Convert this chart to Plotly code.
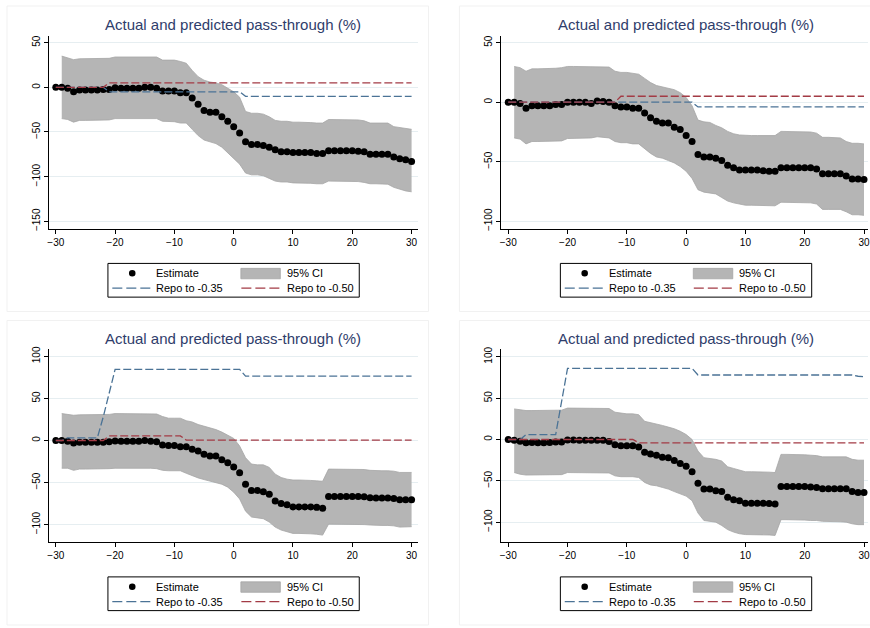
import plotly.graph_objects as go

# ---------------------------------------------------------------- data
event_time = list(range(-30, 31))

# Panel A (top left)
est_a = [0, 0, -1, -5, -3, -3, -3, -3, -2.5, -2.5, -0.5, -1, -1, -1, -1, 0, 0, -1, -4, -4,
         -4, -6, -6, -12, -19, -26, -28, -28, -33, -38, -44, -51, -61, -64, -64, -65, -67, -70, -72, -72,
         -73, -73, -73, -73, -74, -74, -71, -71, -71, -71, -71, -71.5, -72, -75, -75, -75, -75, -78, -80, -81,
         -83]
hi_a = [None, 35, 33, 31, 32, 32, 32, 32, 32.5, 32.5, 34, 34, 34, 34, 34, 34.5, 34.5, 34, 30.5, 30.5,
        30.5, 29, 27, 19, 12, 8, 6, 5, 3, -1, -5, -11, -27, -29, -29, -30, -33, -37, -38, -38,
        -39, -39, -39, -39.5, -40, -40, -36, -36, -36, -36, -36, -36.5, -37.5, -40, -40, -40, -40, -44, -45, -46,
        -47]
lo_a = [None, -35, -36, -39, -37, -37, -37, -37, -36.5, -36.5, -35, -35, -35, -35, -35, -34.5, -34.5, -35, -38, -38.5,
        -38.5, -40, -40, -47, -54, -59, -61, -63, -67, -73, -79, -86, -96, -98, -98, -99, -102, -105, -106, -106,
        -107, -107, -107, -107.5, -108, -108, -105, -105, -105, -105, -105, -105.5, -106.5, -108, -108, -108, -108.5, -112, -114, -116,
        -117]
repo35_a = [0] * 9 + [-5] * 23 + [-10] * 29
repo50_a = [0] * 9 + [5] * 52

# Panel B (top right)
est_b = [0, 0, -1, -5, -3, -3, -3, -3, -2, -2, 0, 0, 0, 0, -1, 1, 0.5, 0, -3, -4,
         -4, -5, -5, -9, -13, -16, -17.5, -17.5, -21, -23, -28, -33, -44, -46, -46, -47, -49, -53, -55, -57,
         -57, -57, -57, -57.5, -58, -58, -55, -55, -55, -55, -55, -55, -56, -60, -60, -60, -60, -62, -64.5, -64.5,
         -65]
hi_b = [None, 30, 29, 26, 28, 28, 28, 28, 28.5, 29, 30, 30, 30, 30, 30, 30, 30, 29.5, 26, 25,
        25, 24, 23.5, 20, 16.5, 14, 13, 12, 10.5, 8, 4, -3, -15, -16.5, -17, -19.5, -21.5, -24.5, -26.5, -27.5,
        -28, -28, -28, -28, -28, -28, -24.5, -24.5, -24.5, -24.5, -24.5, -25, -26, -29.5, -29.5, -29.5, -30, -33, -34.5, -34.5,
        -35]
lo_b = [None, -30, -31, -35, -33, -33, -33, -33, -32.5, -32.5, -30.5, -30.5, -30, -30, -30, -29, -29.5, -30, -33, -34,
        -34, -35, -35, -39, -43, -46, -47, -49, -51, -54, -58, -64, -73.5, -75.5, -76, -77, -80, -83, -84.5, -85.5,
        -86.5, -86.5, -86.5, -86.5, -87, -87, -84, -84, -84, -84, -84, -84.5, -85.5, -90, -90, -90, -90, -92, -94.5, -94.5,
        -95]
repo35_b = [0] * 32 + [-4] * 29
repo50_b = [0] * 19 + [5] * 42

# Panel C (bottom left)
est_c = [0, 0, -1, -3, -2, -2, -2, -2, -2, -1.5, -0.5, -1, -1, -1, -1, 0, -1, -1.5, -5.5, -6,
         -6, -7.5, -7.5, -10.5, -12.5, -16.5, -18.5, -18.5, -23, -26.5, -31.5, -38.5, -52, -59.5, -59.5, -61, -64, -72, -75, -76.5,
         -79, -79, -79, -79, -79.5, -80.5, -66.5, -66.5, -66.5, -66.5, -66.5, -66.5, -67, -68, -68.5, -68.5, -68.5, -69, -70.5, -70.5,
         -70.5]
hi_c = [None, 32, 31, 30, 30.5, 30.5, 30.5, 30.5, 30.5, 31, 32, 32, 32, 32, 32, 32, 32, 31.5, 28.5, 26.5,
        26.5, 26.5, 23.5, 22, 19, 17, 15, 13, 10, 6.5, 2.5, -6.5, -20.5, -28, -29, -29, -32, -40, -44, -46,
        -47, -47, -47, -47.5, -48, -48.5, -34, -34, -34, -34, -34, -34, -34.5, -35.5, -36, -36, -36, -36.5, -38, -38,
        -38]
lo_c = [None, -33, -33, -35.5, -34, -34, -34, -34, -34, -33.5, -33, -33, -33, -33, -33, -32.5, -33, -33.5, -35.5, -36,
        -36, -36, -39, -42, -44.5, -46.5, -48.5, -50, -52, -55.5, -61.5, -69.5, -84, -91, -92, -93, -97, -103, -106.5, -108.5,
        -110.5, -110.5, -110.5, -111, -111.5, -112.5, -99.5, -99.5, -99.5, -99.5, -99.5, -99.5, -100, -100.5, -101, -101, -101, -101.5, -103, -103,
        -102.5]
repo35_c = [0, 0] + [3] * 6 + [28, 55] + [84.5] * 22 + [76.5] * 29
repo50_c = [0] * 9 + [5.5] * 13 + [0.5] * 39

# Panel D (bottom right)
est_d = [0, -1, -2, -4, -3.5, -4, -4, -3.5, -3, -3, -0.5, -0.5, -1, -1, -1, -1, -1, -2.5, -6.5, -7.5,
         -7.5, -7.5, -9, -15.5, -17.5, -19, -21.5, -22, -25.5, -29, -32.5, -39, -53, -60, -60, -62, -63, -70, -73, -74,
         -77, -77, -77, -77, -77.5, -78, -57, -57, -57, -57, -57, -57.5, -58, -59.5, -59.5, -59.5, -59.5, -59.5, -63, -64,
         -64]
hi_d = [None, 37, 36, 35, 35, 35, 35, 35, 35, 35.5, 38, 38, 38, 38, 38, 38, 38, 37.5, 33, 32,
        31, 31, 30, 22, 20.5, 19, 17, 15, 13, 10, 6, 0, -14, -22, -23, -24, -26, -33, -35, -37,
        -39, -39, -39, -39, -39.5, -40, -18, -18, -18, -18, -18.5, -19, -19.5, -21, -21, -21, -21, -21, -24, -25,
        -25]
lo_d = [None, -40, -42, -43, -43, -43, -43, -43, -43, -42.5, -40, -40, -40, -40, -40, -40, -40, -40.5, -44, -45,
        -45, -45, -46, -52, -55, -56, -58, -60, -63, -65.5, -68.5, -74, -89, -98, -99, -100, -104, -109, -112, -114,
        -115, -115, -115, -115, -115.5, -116, -97, -97, -97, -97, -97.5, -98, -98, -99, -99, -99, -99.5, -100, -102, -103,
        -103]
repo35_d = [0, 0, 0] + [6] * 6 + [46] + [86] * 22 + [78] * 27 + [76.5, 76]
repo50_d = [0] * 22 + [-4] * 39

x_ticks = [-30, -20, -10, 0, 10, 20, 30]
y_ticks_top_left = [-150, -100, -50, 0, 50]
y_ticks_top_right = [-100, -50, 0, 50]
y_ticks_bottom = [-100, -50, 0, 50, 100]

title_text = "Actual and predicted pass-through (%)"
legend_labels = ["Estimate", "95% CI", "Repo to -0.35", "Repo to -0.50"]

# ---------------------------------------------------------------- style
W, H = 870, 628
FONT = "Liberation Sans, Arial, sans-serif"
TITLE_COLOR = "#2f3d6b"
CI_FILL = "#b5b5b5"
CI_EDGE = "#a6a6a6"
BLUE = "#4b7396"
RED = "#a33b45"
GRID = "#e6eef1"
FRAME = "#f1f1f1"
DASH = "8px,3px"

# panel geometry in pixels (top-left panel), other panels are offset copies
DX, DY = 454, 316
PLOT_L, PLOT_R, PLOT_T, PLOT_B = 48, 418, 33, 227.5
X_AT_M30, PX_PER_X = 55, 357 / 60


def px(x):
    return x / W


def py(y):
    return 1 - y / H


panels = [
    dict(est=est_a, hi=hi_a, lo=lo_a, r35=repo35_a, r50=repo50_a, dx=0, dy=0,
         yrange=[-158.3, 57.8], yticks=y_ticks_top_left),
    dict(est=est_b, hi=hi_b, lo=lo_b, r35=repo35_b, r50=repo50_b, dx=DX, dy=0,
         yrange=[-106.2, 55.8], yticks=y_ticks_top_right),
    dict(est=est_c, hi=hi_c, lo=lo_c, r35=repo35_c, r50=repo50_c, dx=0, dy=DY,
         yrange=[-120.9, 108.5], yticks=y_ticks_bottom),
    dict(est=est_d, hi=hi_d, lo=lo_d, r35=repo35_d, r50=repo50_d, dx=DX, dy=DY,
         yrange=[-124.2, 109.2], yticks=y_ticks_bottom),
]

fig = go.Figure()
shapes = []
annotations = []

for i, p in enumerate(panels, start=1):
    xa = "x" if i == 1 else f"x{i}"
    ya = "y" if i == 1 else f"y{i}"
    dx, dy = p["dx"], p["dy"]

    # confidence band
    ci_x = [t for t, lo in zip(event_time, p["lo"]) if lo is not None]
    ci_lo = [v for v in p["lo"] if v is not None]
    ci_hi = [v for v in p["hi"] if v is not None]
    fig.add_trace(go.Scatter(x=ci_x, y=ci_lo, mode="lines", xaxis=xa, yaxis=ya,
                             line=dict(color=CI_EDGE, width=0.8), showlegend=False,
                             hoverinfo="skip"))
    fig.add_trace(go.Scatter(x=ci_x, y=ci_hi, mode="lines", xaxis=xa, yaxis=ya,
                             fill="tonexty", fillcolor=CI_FILL,
                             line=dict(color=CI_EDGE, width=0.8), name=legend_labels[1],
                             showlegend=False))
    # point estimates
    fig.add_trace(go.Scatter(x=event_time, y=p["est"], mode="markers", xaxis=xa, yaxis=ya,
                             marker=dict(color="black", size=7), name=legend_labels[0],
                             showlegend=False))
    # predicted paths
    fig.add_trace(go.Scatter(x=event_time, y=p["r35"], mode="lines", xaxis=xa, yaxis=ya,
                             line=dict(color=BLUE, width=1.3, dash=DASH), name=legend_labels[2],
                             showlegend=False))
    fig.add_trace(go.Scatter(x=event_time, y=p["r50"], mode="lines", xaxis=xa, yaxis=ya,
                             line=dict(color=RED, width=1.3, dash=DASH), name=legend_labels[3],
                             showlegend=False))

    # axes
    left = PLOT_L + dx
    right = min(PLOT_R + dx, W)
    x0px = X_AT_M30 + dx
    xrange = [-30 + (left - x0px) / PX_PER_X, -30 + (right - x0px) / PX_PER_X]
    axis_common = dict(ticks="outside", ticklen=4, tickwidth=1, tickcolor="black",
                       showline=True, linecolor="black", linewidth=1, zeroline=False,
                       tickfont=dict(family=FONT, size=10, color="black"))
    fig.layout[f"xaxis{'' if i == 1 else i}"] = dict(
        domain=[px(left), px(right)], range=xrange, anchor=ya,
        tickvals=x_ticks, showgrid=False, ticklabeloverflow="allow", **axis_common)
    fig.layout[f"yaxis{'' if i == 1 else i}"] = dict(
        domain=[py(PLOT_B + dy), py(PLOT_T + dy)], range=p["yrange"], anchor=xa,
        tickvals=p["yticks"], showgrid=True, gridcolor=GRID, gridwidth=1,
        **axis_common)

    # faint frame around each graph
    fx0, fx1 = (6, 429) if dx == 0 else (460, 880)
    fy0, fy1 = (3, 311) if dy == 0 else (320, 627)
    shapes.append(dict(type="rect", xref="paper", yref="paper",
                       x0=px(fx0), x1=px(fx1), y0=py(fy0), y1=py(fy1),
                       line=dict(color=FRAME, width=1), layer="below"))

    # title
    annotations.append(dict(text=title_text, xref="paper", yref="paper",
                            x=px(233 + dx), y=py(22 + dy), xanchor="center", yanchor="middle",
                            showarrow=False, font=dict(family=FONT, size=15, color=TITLE_COLOR)))

    # legend box
    r1, r2 = 272.5 + dy, 287.5 + dy
    shapes.append(dict(type="rect", xref="paper", yref="paper",
                       x0=px(107.3 + dx), x1=px(359.5 + dx), y0=py(262.5 + dy), y1=py(296.5 + dy),
                       line=dict(color="black", width=1), fillcolor="white"))
    shapes.append(dict(type="circle", xref="paper", yref="paper",
                       x0=px(128.4 + dx), x1=px(135.0 + dx), y0=py(r1 - 3.3), y1=py(r1 + 3.3),
                       line=dict(color="black", width=0), fillcolor="black"))
    shapes.append(dict(type="rect", xref="paper", yref="paper",
                       x0=px(240.7 + dx), x1=px(280.3 + dx), y0=py(r1 - 5), y1=py(r1 + 5.5),
                       line=dict(color=CI_EDGE, width=0.8), fillcolor=CI_FILL))
    shapes.append(dict(type="line", xref="paper", yref="paper",
                       x0=px(111.7 + dx), x1=px(150.7 + dx), y0=py(r2), y1=py(r2),
                       line=dict(color=BLUE, width=1.3, dash="10px,4px")))
    shapes.append(dict(type="line", xref="paper", yref="paper",
                       x0=px(241.2 + dx), x1=px(280.3 + dx), y0=py(r2), y1=py(r2),
                       line=dict(color=RED, width=1.3, dash="10px,4px")))
    for label, lx, ly in [(legend_labels[0], 154, r1), (legend_labels[1], 285, r1),
                          (legend_labels[2], 154, r2), (legend_labels[3], 285, r2)]:
        annotations.append(dict(text=label, xref="paper", yref="paper",
                                x=px(lx + dx), y=py(ly), xanchor="left", yanchor="middle",
                                showarrow=False, font=dict(family=FONT, size=11, color="black")))

# vertical tick labels on every value axis
fig.update_yaxes(tickangle=-90)

fig.update_layout(
    width=W, height=H,
    margin=dict(l=0, r=0, t=0, b=0),
    paper_bgcolor="white", plot_bgcolor="white",
    showlegend=False,
    shapes=shapes, annotations=annotations,
)

fig.write_html("out.html")
